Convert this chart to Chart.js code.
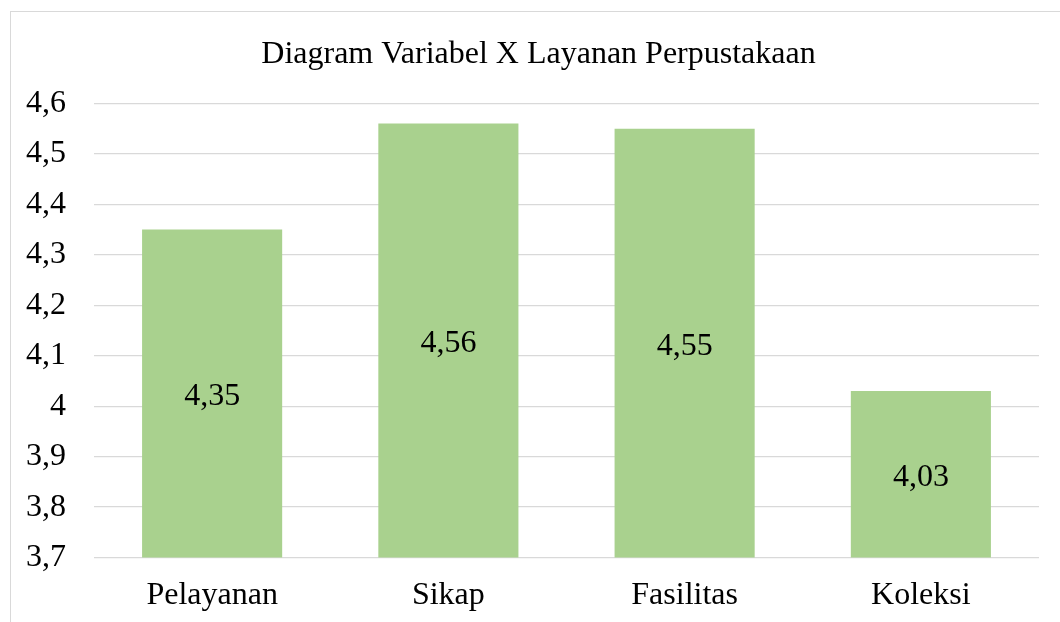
<!DOCTYPE html>
<html>
<head>
<meta charset="utf-8">
<script src="https://cdn.jsdelivr.net/npm/chart.js@4/dist/chart.umd.min.js"></script>
<style>
  html, body { margin: 0; padding: 0; background: #fff; overflow: hidden; width: 1060px; height: 622px; }
  #box { position: absolute; left: 10px; top: 11px; width: 1056px; height: 640px; border: 1px solid #d9d9d9; background: #fff; }
  #c { display: block; }
</style>
</head>
<body>
<div id="box"><canvas id="c" width="1055" height="622"></canvas></div>
<script>
const chartTitle = 'Diagram Variabel X Layanan Perpustakaan';
const categories = ['Pelayanan', 'Sikap', 'Fasilitas', 'Koleksi'];
const values = [4.35, 4.56, 4.55, 4.03];
const valueLabels = ['4,35', '4,56', '4,55', '4,03'];
const yTickValues = [3.7, 3.8, 3.9, 4.0, 4.1, 4.2, 4.3, 4.4, 4.5, 4.6];
const yTickLabels = ['3,7', '3,8', '3,9', '4', '4,1', '4,2', '4,3', '4,4', '4,5', '4,6'];

const FONT = '"Liberation Serif", "Times New Roman", serif';

const dataLabelPlugin = {
  id: 'barValueLabels',
  afterDraw(chart) {
    const ctx = chart.ctx;
    const yScale = chart.scales.y;
    const xScale = chart.scales.x;
    ctx.save();
    ctx.font = '32px ' + FONT;
    ctx.fillStyle = '#000';
    ctx.textAlign = 'center';
    ctx.textBaseline = 'middle';
    values.forEach((v, i) => {
      const x = xScale.getPixelForValue(i);
      const top = yScale.getPixelForValue(v);
      const base = yScale.getPixelForValue(yScale.min);
      ctx.fillText(valueLabels[i], x, (top + base) / 2 + 3);
    });
    ctx.restore();
  }
};

new Chart(document.getElementById('c'), {
  type: 'bar',
  data: {
    labels: categories,
    datasets: [{
      data: values,
      backgroundColor: '#A9D18E',
      borderWidth: 0,
      categoryPercentage: 0.593,
      barPercentage: 1.0
    }]
  },
  options: {
    responsive: false,
    animation: false,
    devicePixelRatio: 1,
    layout: { padding: { left: 0, right: 0, top: 0, bottom: 0 } },
    plugins: {
      legend: { display: false },
      tooltip: { enabled: false },
      title: {
        display: true,
        text: chartTitle,
        color: '#000',
        font: { family: FONT, size: 32, weight: 'normal', lineHeight: 1.2 },
        padding: { top: 23, bottom: 30 }
      }
    },
    scales: {
      x: {
        grid: { display: false, drawTicks: false },
        border: { display: false },
        ticks: { color: '#000', font: { family: FONT, size: 32 }, padding: 19 }
      },
      y: {
        min: 3.7,
        max: 4.6,
        afterBuildTicks(scale) { scale.ticks = yTickValues.map(v => ({ value: v })); },
        afterFit(scale) { scale.width = 83; },
        grid: { color: '#d9d9d9', lineWidth: 1.3, drawTicks: false },
        border: { display: false },
        ticks: {
          color: '#000',
          font: { family: FONT, size: 32 },
          padding: 28,
          callback(v, i) { return yTickLabels[i]; }
        }
      },
      yRight: {
        position: 'right',
        display: true,
        min: 3.7,
        max: 4.6,
        afterFit(scale) { scale.width = 27; },
        grid: { display: false, drawTicks: false },
        border: { display: false },
        ticks: { display: false }
      }
    }
  },
  plugins: [dataLabelPlugin]
});
</script>
</body>
</html>
